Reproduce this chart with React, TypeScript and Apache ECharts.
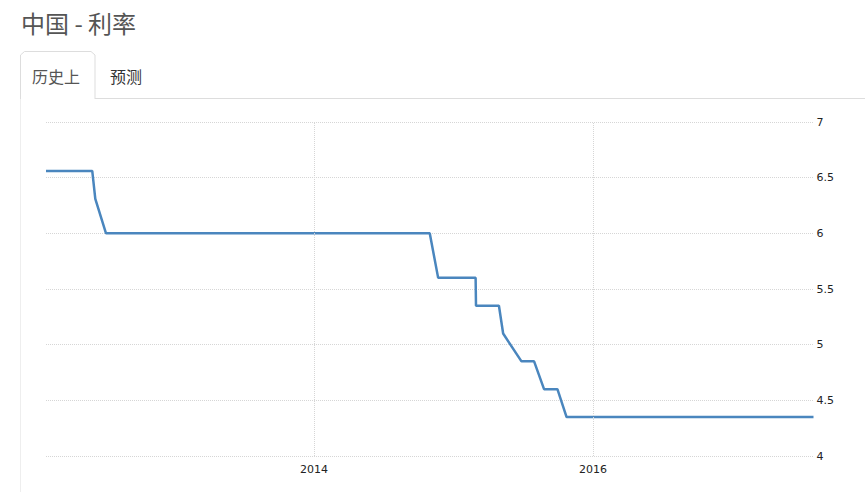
import React, { useEffect, useRef } from "react";
import * as echarts from "echarts";

const dates: string[] = [
  "2012-01-31", "2012-05-31", "2012-06-08", "2012-07-06", "2014-10-31",
  "2014-11-22", "2015-02-28", "2015-03-01", "2015-04-30", "2015-05-11",
  "2015-06-28", "2015-07-31", "2015-08-26", "2015-09-30", "2015-10-24",
  "2017-07-31",
];
const rates: number[] = [
  6.56, 6.56, 6.31, 6.0, 6.0,
  5.6, 5.6, 5.35, 5.35, 5.1,
  4.85, 4.85, 4.6, 4.6, 4.35,
  4.35,
];
const labelYears: number[] = [2014, 2016];
const titleText = "中国 - 利率";
const tabs: string[] = ["历史上", "预测"];

const cjk = '"Noto Sans CJK SC", "Noto Sans", sans-serif';

export default function App() {
  const ref = useRef<HTMLDivElement>(null);
  useEffect(() => {
    if (!ref.current) return;
    const chart = echarts.init(ref.current, undefined, { renderer: "svg" });
    const parse = (s: string) => {
      const [y, m, d] = s.split("-").map(Number);
      return new Date(y, m - 1, d).getTime();
    };
    const data = dates.map((d, i) => [parse(d), rates[i]]);
    const tickVals = labelYears.map((y) => new Date(y, 0, 1).getTime());
    chart.setOption({
      animation: false,
      backgroundColor: "#fff",
      grid: { left: 46, right: 51.5, top: 122, bottom: 36, containLabel: false },
      xAxis: {
        type: "time",
        min: parse(dates[0]),
        max: parse(dates[dates.length - 1]),
        axisLine: { show: false },
        axisTick: { show: false },
        splitLine: { show: false },
        axisLabel: {
          formatter: (v: number) => {
            const d = new Date(v);
            const y = d.getFullYear();
            if (d.getMonth() === 0 && d.getDate() === 1 && labelYears.indexOf(y) >= 0) return String(y);
            return "";
          },
          color: "#222",
          fontSize: 11,
          fontFamily: "DejaVu Sans",
          margin: 8,
          hideOverlap: false,
        },
      },
      yAxis: {
        type: "value",
        position: "right",
        min: 4,
        max: 7,
        interval: 0.5,
        axisLine: { show: false },
        axisTick: { show: false },
        axisLabel: {
          color: "#222",
          fontSize: 11,
          fontFamily: "DejaVu Sans",
          margin: 3,
        },
        splitLine: { lineStyle: { color: "#d6d6d6", type: [1, 1], width: 1 } },
      },
      series: [
        {
          type: "line",
          data,
          showSymbol: false,
          lineStyle: { color: "#4a86be", width: 2.5 },
          itemStyle: { color: "#4a86be" },
          markLine: {
            silent: true,
            symbol: "none",
            label: { show: false },
            lineStyle: { color: "#d6d6d6", type: [1, 1], width: 1 },
            data: tickVals.map((v) => ({ xAxis: v })),
          },
          z: 3,
        },
      ],
      graphic: [
        {
          type: "text",
          left: 21,
          top: 10,
          style: { text: titleText, font: `24px ${cjk}`, fill: "#555" },
        },
        {
          type: "line",
          shape: { x1: 95, y1: 98.5, x2: 865, y2: 98.5 },
          style: { stroke: "#ddd", lineWidth: 1 },
        },
        {
          type: "line",
          shape: { x1: 20.5, y1: 98, x2: 20.5, y2: 492 },
          style: { stroke: "#eee", lineWidth: 1 },
        },
        {
          type: "polyline",
          shape: {
            points: [
              [20.5, 99],
              [20.5, 55],
              [24.5, 51.5],
              [91, 51.5],
              [95, 55],
              [95, 99],
            ],
          },
          style: { stroke: "#ddd", lineWidth: 1, fill: "#fff" },
        },
        {
          type: "text",
          x: 32,
          y: 76,
          style: { text: tabs[0], font: `16px ${cjk}`, fill: "#555", verticalAlign: "middle" },
        },
        {
          type: "text",
          x: 110,
          y: 76,
          style: { text: tabs[1], font: `16px ${cjk}`, fill: "#333", verticalAlign: "middle" },
        },
      ],
    });
    return () => chart.dispose();
  }, []);
  return (
    <div
      ref={ref}
      style={{ position: "absolute", left: 0, top: 0, width: 865, height: 492 }}
    />
  );
}
